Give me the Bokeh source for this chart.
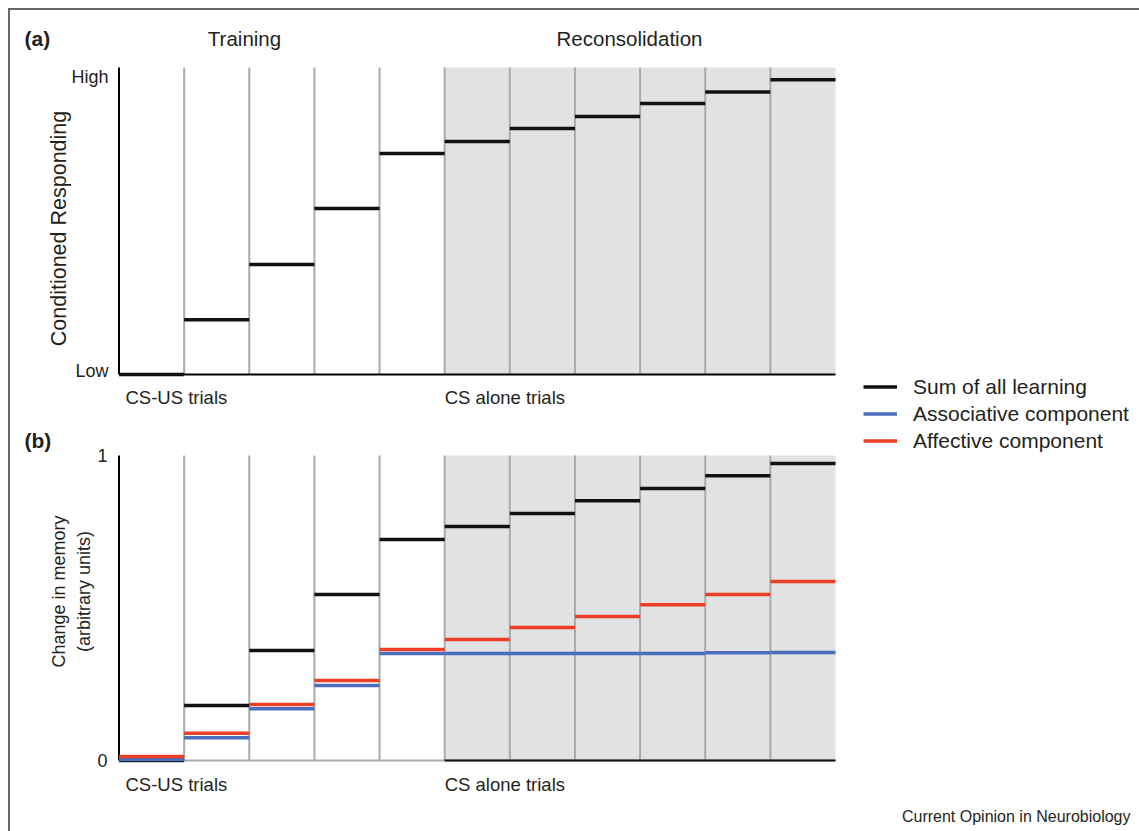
import math
from bokeh.plotting import figure
from bokeh.layouts import column
from bokeh.models import Range1d, Label, Legend, LegendItem
from bokeh.embed import file_html
from bokeh.resources import INLINE

# ---------------- data ----------------
trials = list(range(11))                 # left edge of each trial column
trial_ends = [t + 1 for t in trials]     # right edge of each trial column
boundaries = list(range(1, 11))          # separators between trials
recon_start, recon_end = 5, 11           # CS alone / reconsolidation trials

# (a) conditioned responding (Low=0 .. High=1)
sum_a = [0.0, 0.178, 0.358, 0.541, 0.720, 0.759, 0.801, 0.840, 0.883, 0.920, 0.960]
a_ticks = [0.01, 0.97]
a_tick_labels = ["Low", "High"]

# (b) change in memory (0..1)
sum_b = [0.0, 0.180, 0.361, 0.544, 0.725, 0.767, 0.810, 0.852, 0.892, 0.934, 0.974]
assoc_b = [0.003, 0.075, 0.170, 0.246, 0.351, 0.351, 0.351, 0.351, 0.351, 0.353, 0.354]
affect_b = [0.013, 0.089, 0.184, 0.262, 0.364, 0.397, 0.436, 0.472, 0.511, 0.544, 0.587]
b_ticks = [0, 1]
b_tick_labels = ["0", "1"]

legend_labels = ["Sum of all learning", "Associative component", "Affective component"]

# ---------------- style / layout (pixels) ----------------
FONT = "Liberation Sans"
TXT = "#231f20"
GRID = "#a9abab"
SHADE = "#e1e2e2"
BLACK = "#111111"
BLUE = "#4a6ebb"
RED = "#ee3e26"
BAR_W = 3.5

CW, CH = 1121, 815           # canvas size
OX, OY = 10, 10              # canvas origin on the page
X0_PX, X1_PX = 118.5, 835    # page x of trial 0 and trial 11
A_Y0, A_Y1 = 374, 67         # page y of value 0 and 1, panel (a)
B_Y0, B_Y1 = 760, 455        # page y of value 0 and 1, panel (b)

ppx = (X1_PX - X0_PX) / (trial_ends[-1] - trials[0])
x_start = trials[0] - (X0_PX - OX) / ppx
x_end = trial_ends[-1] + (OX + CW - X1_PX) / ppx
ppa = A_Y0 - A_Y1
ppb = B_Y0 - B_Y1
ya_start, ya_end = -(OY + CH - A_Y0) / ppa, 1 + (A_Y1 - OY) / ppa
yb_start, yb_end = -(OY + CH - B_Y0) / ppb, 1 + (B_Y1 - OY) / ppb

p = figure(width=CW, height=CH, x_range=Range1d(x_start, x_end),
           y_range=Range1d(ya_start, ya_end), x_axis_type=None, y_axis_type=None,
           min_border=0, output_backend="svg", toolbar_location=None)
p.extra_y_ranges = {"b": Range1d(yb_start, yb_end)}
p.outline_line_color = None


def add_label(x, y, text, dx, dy, size, align="left", angle=0, bold=False, rng="default"):
    p.add_layout(Label(x=x, y=y, x_offset=dx, y_offset=dy, text=text, y_range_name=rng,
                       text_font=FONT, text_font_size=size, text_color=TXT,
                       text_align=align, text_baseline="middle", angle=angle,
                       text_font_style="bold" if bold else "normal"))


def draw_panel(rng, bottom_color):
    p.quad(left=[recon_start], right=[recon_end], bottom=[0], top=[1],
           fill_color=SHADE, line_color=None, y_range_name=rng)
    p.segment(x0=boundaries, x1=boundaries, y0=[0] * len(boundaries), y1=[1] * len(boundaries),
              line_color=GRID, line_width=2, y_range_name=rng)
    # axis lines
    p.segment(x0=[trials[0]], x1=[trials[0]], y0=[0], y1=[1], line_color="black",
              line_width=2, y_range_name=rng)
    p.segment(x0=[trials[0]], x1=[trial_ends[-1]], y0=[0], y1=[0], line_color=bottom_color,
              line_width=2, y_range_name=rng)


# ---------------- panel (a) ----------------
draw_panel("default", "black")
p.segment(x0=trials, x1=trial_ends, y0=sum_a, y1=sum_a, line_color=BLACK,
          line_width=BAR_W, line_cap="butt")
for t, lab in zip(a_ticks, a_tick_labels):
    add_label(trials[0], t, lab, -10.5, 0, "18px", align="right")
add_label(trials[0], 1, "(a)", -94.5, 29, "21px", bold=True)
add_label(trials[0], 1, "Training", 125.5, 29, "20.5px", align="center")
add_label(trials[0], 1, "Reconsolidation", 510.5, 29, "20.5px", align="center")
add_label(trials[0], 0, "Conditioned Responding", -60.5, 146, "21.5px", align="center",
          angle=math.pi / 2)
add_label(trials[0], 0, "CS-US trials", 6.5, -23, "18.5px")
add_label(recon_start, 0, "CS alone trials", 0, -23, "18.5px")

# ---------------- panel (b) ----------------
draw_panel("b", GRID)
p.segment(x0=[recon_start], x1=[recon_end], y0=[0], y1=[0], line_color=BLACK,
          line_width=2, y_range_name="b")
r_sum = p.segment(x0=trials, x1=trial_ends, y0=sum_b, y1=sum_b, line_color=BLACK,
                  line_width=BAR_W, line_cap="butt", y_range_name="b")
r_assoc = p.segment(x0=trials, x1=trial_ends, y0=assoc_b, y1=assoc_b, line_color=BLUE,
                    line_width=BAR_W, line_cap="butt", y_range_name="b")
r_aff = p.segment(x0=trials, x1=trial_ends, y0=affect_b, y1=affect_b, line_color=RED,
                  line_width=BAR_W, line_cap="butt", y_range_name="b")
for t, lab in zip(b_ticks, b_tick_labels):
    add_label(trials[0], t, lab, -11.5, 0, "18px", align="right", rng="b")
add_label(trials[0], 1, "(b)", -94.5, 15, "21px", bold=True, rng="b")
add_label(trials[0], 0, "Change in memory", -60.5, 169, "18px", align="center",
          angle=math.pi / 2, rng="b")
add_label(trials[0], 0, "(arbitrary units)", -35.5, 169, "18px", align="center",
          angle=math.pi / 2, rng="b")
add_label(trials[0], 0, "CS-US trials", 6.5, -24, "18.5px", rng="b")
add_label(recon_start, 0, "CS alone trials", 0, -24, "18.5px", rng="b")

# ---------------- legend + caption ----------------
legend = Legend(items=[LegendItem(label=lab, renderers=[r]) for lab, r in
                       zip(legend_labels, [r_sum, r_assoc, r_aff])],
                location=(853, 371), orientation="vertical",
                background_fill_alpha=0, border_line_color=None,
                padding=0, margin=0, spacing=0,
                glyph_width=34, glyph_height=27, label_height=27, label_standoff=16,
                label_text_font=FONT, label_text_font_size="21px",
                label_text_color=TXT, label_text_baseline="middle")
p.add_layout(legend)
add_label(trial_ends[-1], 0, "Current Opinion in Neurobiology", 295, -56, "16px",
          align="right", rng="b")

layout = column(p, styles={"margin-left": "8px", "margin-top": "8px",
                           "padding-right": "8px", "padding-bottom": "6px",
                           "border-left": "2px solid #666", "border-top": "2px solid #666"})

open("out.html", "w").write(file_html(layout, INLINE))
